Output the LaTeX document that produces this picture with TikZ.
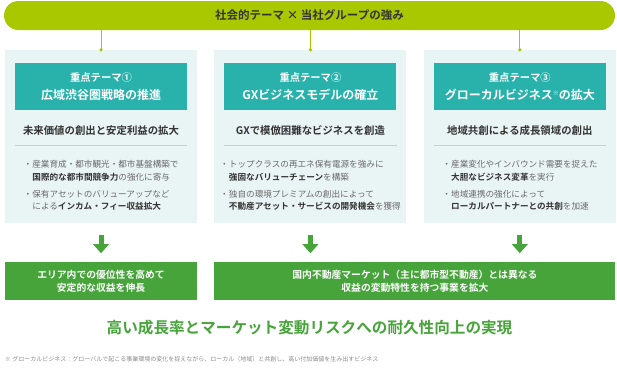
\documentclass[tikz,border=0pt]{standalone}
\usepackage{fontspec}
\setmainfont{Noto Sans CJK JP}[BoldFont={Noto Sans CJK JP Bold}]
\usepackage{xcolor}
\usetikzlibrary{
  positioning,
  arrows.meta
}

\definecolor{limegreen}{HTML}{AAC800}
\definecolor{panelbg}{HTML}{E9F4F5}
\definecolor{themeteal}{HTML}{28B2AB}
\definecolor{seplinecol}{HTML}{A9DCDC}
\definecolor{leafgreen}{HTML}{46A43A}
\definecolor{darktext}{HTML}{333333}
\definecolor{bodytext}{HTML}{6A6A6A}
\definecolor{notetext}{HTML}{8A8A8A}

\newcommand{\themeno}[1]{{\fontsize{10.3}{17.7}\selectfont 重点テーマ#1}}
\newcommand{\keyword}[1]{\textbf{\color{darktext}#1}}
\newcommand{\pitem}[2]{\makebox[9pt][c]{・}#1\\\hspace*{9pt}#2}

\begin{document}
\begin{tikzpicture}[
  x=1pt, y=1pt,
  font=\fontsize{8.6}{12.6}\selectfont,
  node distance=17pt,
  banner/.style={
    rectangle,
    rounded corners=14.5pt,
    fill=limegreen,
    text=darktext,
    minimum width=611pt,
    minimum height=29pt,
    font=\bfseries\fontsize{11.5}{14}\selectfont
  },
  panel/.style={
    rectangle,
    fill=panelbg,
    minimum width=192pt,
    minimum height=173pt,
    inner sep=0pt
  },
  head/.style={
    rectangle,
    fill=themeteal,
    text=white,
    minimum width=172pt,
    minimum height=47pt,
    inner sep=0pt,
    align=center,
    font=\bfseries\fontsize{12}{17.7}\selectfont
  },
  subhead/.style={
    inner sep=0pt,
    text=darktext,
    font=\bfseries\fontsize{10.4}{12}\selectfont
  },
  bullets/.style={
    inner sep=0pt,
    align=left,
    text=bodytext,
    font=\fontsize{8.6}{12.6}\selectfont
  },
  result/.style={
    rectangle,
    fill=leafgreen,
    text=white,
    minimum height=38pt,
    inner sep=0pt,
    align=center,
    font=\bfseries\fontsize{9.8}{13.7}\selectfont
  },
  goal/.style={
    inner sep=0pt,
    text=leafgreen,
    font=\bfseries\fontsize{15.6}{18}\selectfont
  },
  note/.style={
    inner sep=0pt,
    text=notetext,
    font=\fontsize{6}{7}\selectfont
  },
  stem/.style={draw=limegreen, line width=0.9pt},
  dot/.style={circle, fill=limegreen, inner sep=0pt, minimum size=3.6pt},
  sepline/.style={draw=seplinecol, line width=0.9pt},
  downarrow/.style={
    -{Triangle[width=16pt, length=9pt, line width=0pt]},
    line width=5pt,
    draw=leafgreen,
    shorten <=12pt,
    shorten >=9pt
  }
]
\useasboundingbox (0,0) rectangle (617,-367);

% Top banner
\node[banner] (strength) at (309.5,-15.5) {社会的テーマ × 当社グループの強み};

% Theme panels
\node[panel] (panel1) at (101,-136.5) {};
\node[panel, right=of panel1] (panel2) {};
\node[panel, right=of panel2] (panel3) {};

\draw[stem] (strength.south -| panel1.north) -- (panel1.north) node[dot] (dot1) {};
\draw[stem] (strength.south -| panel2.north) -- (panel2.north) node[dot] (dot2) {};
\draw[stem] (strength.south -| panel3.north) -- (panel3.north) node[dot] (dot3) {};

% Theme 1
\node[head, below=13pt of panel1.north] (head1) {\themeno{①}\\広域渋谷圏戦略の推進};
\node[subhead, below=15pt of head1] (sub1) {未来価値の創出と安定利益の拡大};
\coordinate[below=10pt of sub1] (sep1);
\draw[sepline] (head1.west |- sep1) -- (head1.east |- sep1);
\node[bullets, below=14.5pt of sep1] (list1) {%
  \pitem{産業育成・都市観光・都市基盤構築で}{\keyword{国際的な都市間競争力}の強化に寄与}\\[4.5pt]
  \pitem{保有アセットのバリューアップなど}{による\keyword{インカム・フィー収益拡大}}};

% Theme 2
\node[head, below=13pt of panel2.north] (head2) {\themeno{②}\\GXビジネスモデルの確立};
\node[subhead, below=15pt of head2] (sub2) {GXで模倣困難なビジネスを創造};
\coordinate[below=10pt of sub2] (sep2);
\draw[sepline] (head2.west |- sep2) -- (head2.east |- sep2);
\node[bullets, below=14.5pt of sep2] (list2) {%
  \pitem{トップクラスの再エネ保有電源を強みに}{\keyword{強固なバリューチェーン}を構築}\\[4.5pt]
  \pitem{独自の環境プレミアムの創出によって}{\keyword{不動産アセット・サービスの開発機会}を獲得}};

% Theme 3
\node[head, below=13pt of panel3.north] (head3) {\themeno{③}\\グローカルビジネス{\fontsize{6}{6}\selectfont\raisebox{4pt}{※}}の拡大};
\node[subhead, below=15pt of head3] (sub3) {地域共創による成長領域の創出};
\coordinate[below=10pt of sub3] (sep3);
\draw[sepline] (head3.west |- sep3) -- (head3.east |- sep3);
\node[bullets, below=14.5pt of sep3] (list3) {%
  \pitem{産業変化やインバウンド需要を捉えた}{\keyword{大胆なビジネス変革}を実行}\\[4.5pt]
  \pitem{地域連携の強化によって}{\keyword{ローカルパートナーとの共創}を加速}};

% Results
\node[result, minimum width=192pt, below=39pt of panel1] (result1) {エリア内での優位性を高めて\\安定的な収益を伸長};
\node[result, minimum width=401pt, right=of result1] (result2) {国内不動産マーケット（主に都市型不動産）とは異なる\\収益の変動特性を持つ事業を拡大};

\draw[downarrow] (panel1.south) -- (result1.north);
\draw[downarrow] (panel2.south) -- (panel2.south |- result2.north);
\draw[downarrow] (panel3.south) -- (panel3.south |- result2.north);

% Goal & footnote
\coordinate (goalbase) at (result1.south -| strength.south);
\node[goal, below=19.5pt of goalbase] (goal) {高い成長率とマーケット変動リスクへの耐久性向上の実現};
\node[note, below=59pt of result1.south west, anchor=west] (footnote) {※ グローカルビジネス：グローバルで起こる事業環境の変化を捉えながら、ローカル（地域）と共創し、高い付加価値を生み出すビジネス};

\end{tikzpicture}
\end{document}
